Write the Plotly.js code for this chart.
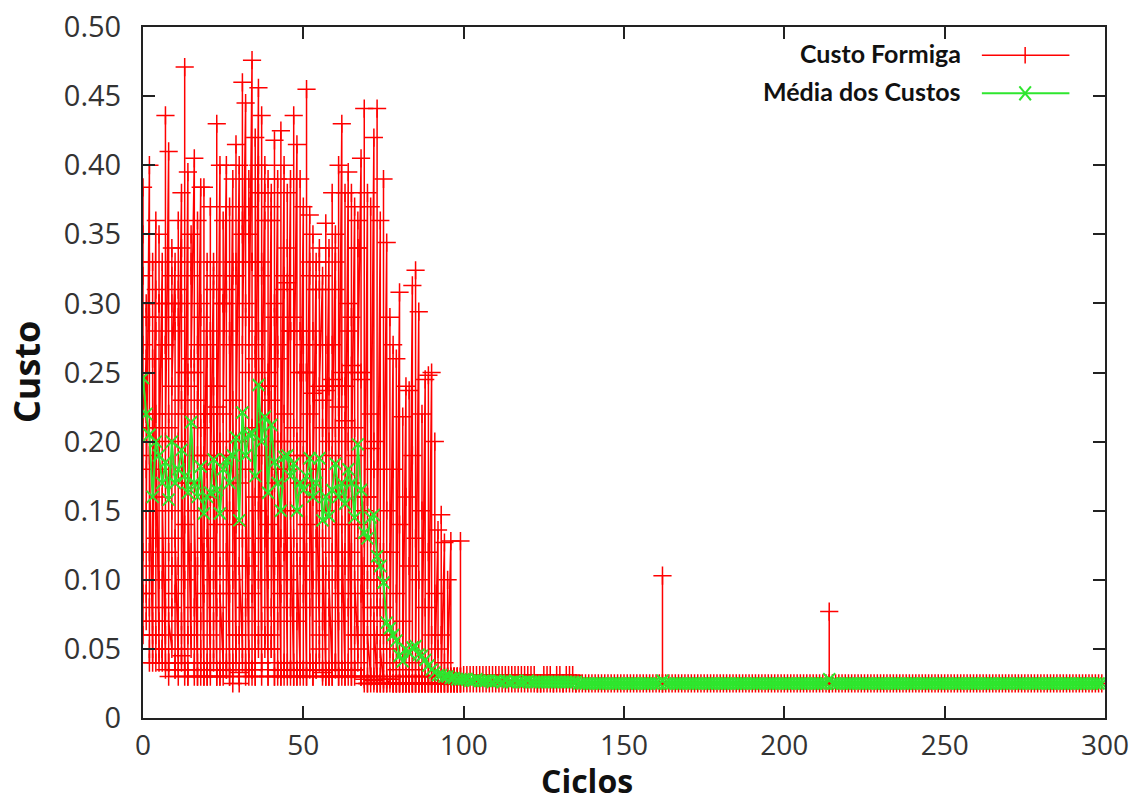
<!DOCTYPE html>
<html>
<head>
<meta charset="utf-8">
<script src="https://cdn.plot.ly/plotly-3.0.1.min.js"></script>
<style>html,body{margin:0;padding:0;background:#fff}#chart{width:1138px;height:804px}</style>
</head>
<body>
<div id="chart"></div>
<script>
// ---- DATA ----
const seriesNames = ["Custo Formiga", "Média dos Custos"];
const xTitle = "Ciclos";
const yTitle = "Custo";
const yTickVals = [0, 0.05, 0.10, 0.15, 0.20, 0.25, 0.30, 0.35, 0.40, 0.45, 0.50];
const yTickText = ["0", "0.05", "0.10", "0.15", "0.20", "0.25", "0.30", "0.35", "0.40", "0.45", "0.50"];
const xTickVals = [0, 50, 100, 150, 200, 250, 300];

// cost of each ant, cycles 0-99 (one row per cycle)
const antCostsExploration = [
[0.384,0.06,0.35,0.09,0.32,0.27,0.12,0.21],[0.26,0.07,0.30,0.18,0.29,0.22,0.09,0.15],[0.40,0.05,0.33,0.12,0.29,0.04,0.08,0.19],[0.05,0.33,0.04,0.26,0.07,0.21,0.11,0.06],
[0.36,0.06,0.31,0.04,0.28,0.15,0.13,0.22],[0.05,0.35,0.10,0.30,0.04,0.30,0.07,0.18],[0.33,0.04,0.26,0.05,0.29,0.05,0.10,0.16],[0.04,0.436,0.06,0.27,0.035,0.27,0.08,0.20],
[0.41,0.03,0.22,0.04,0.21,0.04,0.12,0.07],[0.05,0.34,0.08,0.32,0.11,0.30,0.15,0.24],[0.33,0.035,0.28,0.04,0.30,0.035,0.09,0.13],[0.04,0.36,0.05,0.31,0.03,0.29,0.11,0.20],
[0.38,0.04,0.34,0.06,0.30,0.045,0.07,0.23],[0.035,0.471,0.03,0.25,0.04,0.22,0.10,0.14],[0.395,0.03,0.24,0.035,0.25,0.03,0.06,0.17],[0.05,0.35,0.17,0.33,0.06,0.32,0.12,0.26],
[0.405,0.035,0.26,0.04,0.25,0.03,0.08,0.15],[0.03,0.36,0.04,0.27,0.03,0.23,0.11,0.19],[0.384,0.04,0.30,0.03,0.29,0.05,0.07,0.21],[0.03,0.384,0.035,0.22,0.03,0.19,0.09,0.12],
[0.33,0.03,0.26,0.04,0.27,0.03,0.13,0.18],[0.035,0.37,0.03,0.28,0.04,0.22,0.06,0.16],[0.33,0.05,0.31,0.07,0.32,0.04,0.10,0.24],[0.03,0.43,0.035,0.24,0.03,0.225,0.08,0.14],
[0.40,0.03,0.19,0.035,0.20,0.03,0.11,0.09],[0.04,0.36,0.05,0.30,0.03,0.30,0.07,0.22],[0.40,0.035,0.31,0.04,0.30,0.035,0.12,0.19],[0.03,0.37,0.04,0.28,0.03,0.27,0.09,0.15],
[0.39,0.025,0.33,0.04,0.32,0.035,0.10,0.23],[0.04,0.415,0.06,0.33,0.05,0.32,0.14,0.20],[0.40,0.025,0.17,0.03,0.20,0.033,0.06,0.11],[0.05,0.46,0.07,0.36,0.04,0.35,0.13,0.27],
[0.445,0.03,0.29,0.04,0.30,0.035,0.08,0.18],[0.04,0.39,0.05,0.37,0.03,0.35,0.11,0.25],[0.476,0.035,0.33,0.03,0.33,0.035,0.09,0.21],[0.03,0.42,0.04,0.27,0.03,0.26,0.12,0.16],
[0.456,0.05,0.40,0.06,0.38,0.10,0.15,0.28],[0.04,0.436,0.03,0.33,0.04,0.32,0.07,0.19],[0.40,0.05,0.36,0.06,0.38,0.06,0.13,0.24],[0.03,0.39,0.035,0.25,0.03,0.24,0.10,0.14],
[0.38,0.05,0.37,0.06,0.36,0.05,0.08,0.23],[0.03,0.418,0.04,0.30,0.03,0.29,0.11,0.17],[0.39,0.03,0.27,0.035,0.26,0.035,0.07,0.20],[0.03,0.425,0.03,0.20,0.035,0.18,0.09,0.13],
[0.40,0.035,0.31,0.04,0.32,0.03,0.12,0.22],[0.04,0.38,0.035,0.34,0.03,0.315,0.10,0.18],[0.39,0.03,0.28,0.035,0.28,0.035,0.08,0.15],[0.03,0.436,0.04,0.29,0.03,0.28,0.13,0.21],
[0.415,0.03,0.20,0.035,0.19,0.03,0.07,0.12],[0.035,0.39,0.03,0.28,0.035,0.25,0.11,0.17],[0.37,0.03,0.27,0.035,0.25,0.035,0.09,0.19],[0.03,0.455,0.035,0.25,0.03,0.25,0.12,0.14],
[0.364,0.04,0.33,0.04,0.32,0.035,0.08,0.22],[0.03,0.35,0.035,0.28,0.03,0.235,0.10,0.16],[0.33,0.035,0.31,0.04,0.27,0.035,0.13,0.18],[0.06,0.34,0.05,0.33,0.04,0.31,0.09,0.24],
[0.32,0.03,0.23,0.035,0.21,0.033,0.07,0.13],[0.03,0.358,0.035,0.27,0.03,0.237,0.11,0.15],[0.34,0.03,0.20,0.035,0.24,0.03,0.08,0.10],[0.03,0.38,0.035,0.27,0.03,0.245,0.12,0.19],
[0.35,0.04,0.33,0.035,0.31,0.04,0.10,0.21],[0.03,0.40,0.035,0.24,0.03,0.225,0.07,0.16],[0.43,0.03,0.24,0.035,0.25,0.035,0.09,0.14],[0.03,0.38,0.035,0.24,0.03,0.215,0.11,0.12],
[0.395,0.035,0.30,0.04,0.28,0.03,0.08,0.20],[0.03,0.38,0.035,0.29,0.03,0.255,0.12,0.17],[0.37,0.03,0.19,0.035,0.21,0.035,0.06,0.10],[0.05,0.36,0.06,0.34,0.04,0.34,0.14,0.25],
[0.405,0.03,0.25,0.03,0.245,0.03,0.09,0.16],[0.025,0.441,0.03,0.15,0.028,0.13,0.07,0.11],[0.38,0.025,0.16,0.03,0.16,0.025,0.10,0.06],[0.03,0.37,0.025,0.22,0.03,0.195,0.08,0.13],
[0.42,0.025,0.20,0.03,0.18,0.027,0.11,0.07],[0.025,0.441,0.025,0.10,0.03,0.08,0.06,0.09],[0.36,0.025,0.12,0.03,0.10,0.025,0.08,0.05],[0.025,0.39,0.025,0.08,0.028,0.04,0.06,0.12],
[0.344,0.025,0.15,0.025,0.06,0.028],[0.025,0.29,0.03,0.12,0.028,0.05],[0.27,0.025,0.18,0.025,0.04,0.025],[0.025,0.26,0.025,0.09,0.025,0.035],
[0.308,0.025,0.14,0.025,0.03,0.025],[0.025,0.218,0.025,0.07,0.025,0.03],[0.24,0.025,0.16,0.025,0.03,0.025],[0.025,0.237,0.025,0.11,0.025,0.03],
[0.313,0.025,0.19,0.025,0.04,0.025],[0.025,0.324,0.025,0.13,0.025,0.035],[0.294,0.025,0.10,0.025,0.03,0.025],[0.025,0.22,0.025,0.15,0.025,0.03],
[0.245,0.025,0.08,0.025,0.03,0.025],[0.025,0.248,0.025,0.12,0.025,0.03],[0.25,0.025,0.06,0.025,0.03,0.025],[0.025,0.20,0.025,0.09,0.025,0.03],
[0.136,0.025,0.05,0.025,0.03,0.025],[0.025,0.147,0.025,0.06,0.025,0.03],[0.127,0.025,0.04,0.025,0.03,0.025],[0.025,0.10,0.025,0.03,0.025,0.03],
[0.128,0.025,0.03,0.025,0.03,0.025],[0.025,0.03,0.025,0.03,0.025,0.03],[0.03,0.025,0.03,0.025,0.03,0.025],[0.025,0.128,0.025,0.03,0.025,0.03]
];

// cost of each ant, cycles 100-135
const antCostsConvergence = [
[0.031,0.025],[0.025,0.031],[0.031,0.025],[0.025,0.031],[0.031,0.025],[0.025,0.031],[0.031,0.025],[0.025,0.031],[0.031,0.025],
[0.025,0.031],[0.031,0.025],[0.025,0.031],[0.031,0.025],[0.025,0.031],[0.031,0.025],[0.025,0.031],[0.031,0.025],[0.025,0.031],
[0.031,0.025],[0.025,0.031],[0.031,0.025],[0.025,0.031],[0.031,0.025],[0.025,0.025],[0.025,0.025],[0.031,0.025],[0.025,0.031],
[0.031,0.025],[0.025,0.025],[0.031,0.025],[0.025,0.031],[0.025,0.025],[0.031,0.025],[0.025,0.031],[0.031,0.025],[0.025,0.025]
];

// cost of the ants, cycles 136-299 (all ants equal unless a list is given)
const antCostsStable = [
0.025,0.025,0.025,0.025,0.025,0.025,0.025,0.025,0.025,0.025,0.025,0.025,0.025,0.025,0.025,0.025,0.025,0.025,0.025,0.025,
0.025,0.025,0.025,0.025,0.025,0.025,[0.025,0.103,0.025],0.025,0.025,0.025,0.025,0.025,0.025,0.025,0.025,0.025,0.025,0.025,0.025,0.025,
0.025,0.025,0.025,0.025,0.025,0.025,0.025,0.025,0.025,0.025,0.025,0.025,0.025,0.025,0.025,0.025,0.025,0.025,0.025,0.025,
0.025,0.025,0.025,0.025,0.025,0.025,0.025,0.025,0.025,0.025,0.025,0.025,0.025,0.025,0.025,0.025,0.025,0.025,[0.025,0.077,0.025],0.025,
0.025,0.025,0.025,0.025,0.025,0.025,0.025,0.025,0.025,0.025,0.025,0.025,0.025,0.025,0.025,0.025,0.025,0.025,0.025,0.025,
0.025,0.025,0.025,0.025,0.025,0.025,0.025,0.025,0.025,0.025,0.025,0.025,0.025,0.025,0.025,0.025,0.025,0.025,0.025,0.025,
0.025,0.025,0.025,0.025,0.025,0.025,0.025,0.025,0.025,0.025,0.025,0.025,0.025,0.025,0.025,0.025,0.025,0.025,0.025,0.025,
0.025,0.025,0.025,0.025,0.025,0.025,0.025,0.025,0.025,0.025,0.025,0.025,0.025,0.025,0.025,0.025,0.025,0.025,0.025,0.025,
0.025,0.025,0.025,0.025
];

// mean cost per cycle, cycles 0-299
const meanCost = [
0.246,0.22,0.205,0.16,0.2,0.19,0.17,0.185,0.158,0.2,0.17,0.18,0.194,0.175,0.163,0.214,0.17,0.16,0.182,0.148,
0.16,0.163,0.187,0.165,0.148,0.18,0.187,0.17,0.19,0.203,0.143,0.221,0.19,0.205,0.206,0.175,0.241,0.2,0.218,0.163,
0.212,0.185,0.17,0.15,0.189,0.19,0.175,0.184,0.15,0.17,0.165,0.175,0.188,0.16,0.17,0.188,0.143,0.16,0.146,0.165,
0.184,0.16,0.17,0.155,0.18,0.17,0.145,0.198,0.165,0.134,0.13,0.145,0.147,0.117,0.11,0.098,0.069,0.065,0.06,0.056,
0.045,0.041,0.05,0.047,0.051,0.052,0.046,0.045,0.042,0.038,0.035,0.033,0.031,0.031,0.03,0.03,0.029,0.029,0.028,0.028,
0.028,0.028,0.027,0.027,0.028,0.027,0.027,0.027,0.027,0.026,0.027,0.027,0.026,0.027,0.026,0.026,0.027,0.026,0.026,0.026,
0.027,0.026,0.026,0.026,0.026,0.026,0.026,0.026,0.026,0.026,0.026,0.026,0.026,0.026,0.026,0.026,
0.025,0.025,0.025,0.025,0.025,0.025,0.025,0.025,0.025,0.025,0.025,0.025,0.025,0.025,0.025,0.025,0.025,0.025,0.025,0.025,
0.025,0.025,0.025,0.025,0.025,0.025,0.027,0.025,0.025,0.025,0.025,0.025,0.025,0.025,0.025,0.025,0.025,0.025,0.025,0.025,
0.025,0.025,0.025,0.025,0.025,0.025,0.025,0.025,0.025,0.025,0.025,0.025,0.025,0.025,0.025,0.025,0.025,0.025,0.025,0.025,
0.025,0.025,0.025,0.025,0.025,0.025,0.025,0.025,0.025,0.025,0.025,0.025,0.025,0.025,0.025,0.025,0.025,0.025,0.028,0.025,
0.025,0.025,0.025,0.025,0.025,0.025,0.025,0.025,0.025,0.025,0.025,0.025,0.025,0.025,0.025,0.025,0.025,0.025,0.025,0.025,
0.025,0.025,0.025,0.025,0.025,0.025,0.025,0.025,0.025,0.025,0.025,0.025,0.025,0.025,0.025,0.025,0.025,0.025,0.025,0.025,
0.025,0.025,0.025,0.025,0.025,0.025,0.025,0.025,0.025,0.025,0.025,0.025,0.025,0.025,0.025,0.025,0.025,0.025,0.025,0.025,
0.025,0.025,0.025,0.025,0.025,0.025,0.025,0.025,0.025,0.025,0.025,0.025,0.025,0.025,0.025,0.025,0.025,0.025,0.025,0.025,
0.025,0.025,0.025,0.025
];

// ---- BUILD ----
const perCycle = antCostsExploration
  .concat(antCostsConvergence)
  .concat(antCostsStable.map(v => Array.isArray(v) ? v : [v]));
const antX = [], antY = [];
perCycle.forEach((vals, c) => vals.forEach(v => { antX.push(c); antY.push(v); }));
const meanX = meanCost.map((_, i) => i);

const RED = '#ff0000', GREEN = '#2ee62e';
const traces = [
  {x: antX, y: antY, type: 'scatter', mode: 'lines+markers', name: seriesNames[0],
   line: {color: RED, width: 1.5},
   marker: {symbol: 'cross-thin', size: 13, color: RED, line: {color: RED, width: 1.5}}},
  {x: meanX, y: meanCost, type: 'scatter', mode: 'lines+markers', name: seriesNames[1],
   line: {color: GREEN, width: 2},
   marker: {symbol: 'x-thin', size: 12, color: GREEN, line: {color: GREEN, width: 2}}}
];

const axisCommon = {
  showline: true, linecolor: '#222', linewidth: 2, mirror: 'ticks',
  ticks: 'inside', ticklen: 12, tickwidth: 2, tickcolor: '#222',
  showgrid: false, zeroline: false,
  tickfont: {family: 'Open Sans, sans-serif', size: 29, color: '#333'}
};

const titleFont = {family: 'Open Sans, sans-serif', size: 32, color: '#111', weight: 'bold'};
const legendFont = {family: 'Lato, sans-serif', size: 25, color: '#111', weight: 'bold'};
const layout = {
  width: 1138, height: 804,
  margin: {l: 143, r: 33, t: 27, b: 86},
  paper_bgcolor: '#fff', plot_bgcolor: '#fff',
  showlegend: false,
  xaxis: Object.assign({}, axisCommon, {range: [0, 300], tickvals: xTickVals, ticklabelstandoff: 1,
    tickfont: {family: 'Open Sans, sans-serif', size: 28, color: '#333'}}),
  yaxis: Object.assign({}, axisCommon, {range: [0, 0.5], tickvals: yTickVals, ticktext: yTickText, ticklabelstandoff: 14}),
  annotations: [
    {xref: 'paper', yref: 'paper', x: -0.121, y: 0.5, xanchor: 'center', yanchor: 'middle', textangle: -90,
     text: '<b>' + yTitle + '</b>', showarrow: false, font: Object.assign({}, titleFont, {size: 36})},
    {xref: 'paper', yref: 'paper', x: 0.462, y: -0.1235, xanchor: 'center', yanchor: 'bottom', borderpad: 0,
     text: '<b>' + xTitle + '</b>', showarrow: false, font: titleFont},
    {xref: 'paper', yref: 'paper', x: 0.852, y: 0.962, xanchor: 'right', yanchor: 'middle',
     text: '<b>' + seriesNames[0] + '</b>', showarrow: false, font: legendFont},
    {xref: 'paper', yref: 'paper', x: 0.852, y: 0.907, xanchor: 'right', yanchor: 'middle',
     text: '<b>' + seriesNames[1] + '</b>', showarrow: false, font: legendFont}
  ],
  shapes: [
    {type: 'line', xref: 'paper', yref: 'paper', x0: 0.872, x1: 0.963, y0: 0.959, y1: 0.959, line: {color: RED, width: 1.5}},
    {type: 'line', xref: 'paper', yref: 'paper', x0: 0.917, x1: 0.917, y0: 0.947, y1: 0.971, line: {color: RED, width: 1.5}},
    {type: 'line', xref: 'paper', yref: 'paper', x0: 0.872, x1: 0.963, y0: 0.904, y1: 0.904, line: {color: GREEN, width: 2}},
    {type: 'line', xref: 'paper', yref: 'paper', x0: 0.911, x1: 0.923, y0: 0.894, y1: 0.914, line: {color: GREEN, width: 2}},
    {type: 'line', xref: 'paper', yref: 'paper', x0: 0.911, x1: 0.923, y0: 0.914, y1: 0.894, line: {color: GREEN, width: 2}}
  ]
};

Plotly.newPlot('chart', traces, layout, {staticPlot: true, displayModeBar: false});
</script>
</body>
</html>
